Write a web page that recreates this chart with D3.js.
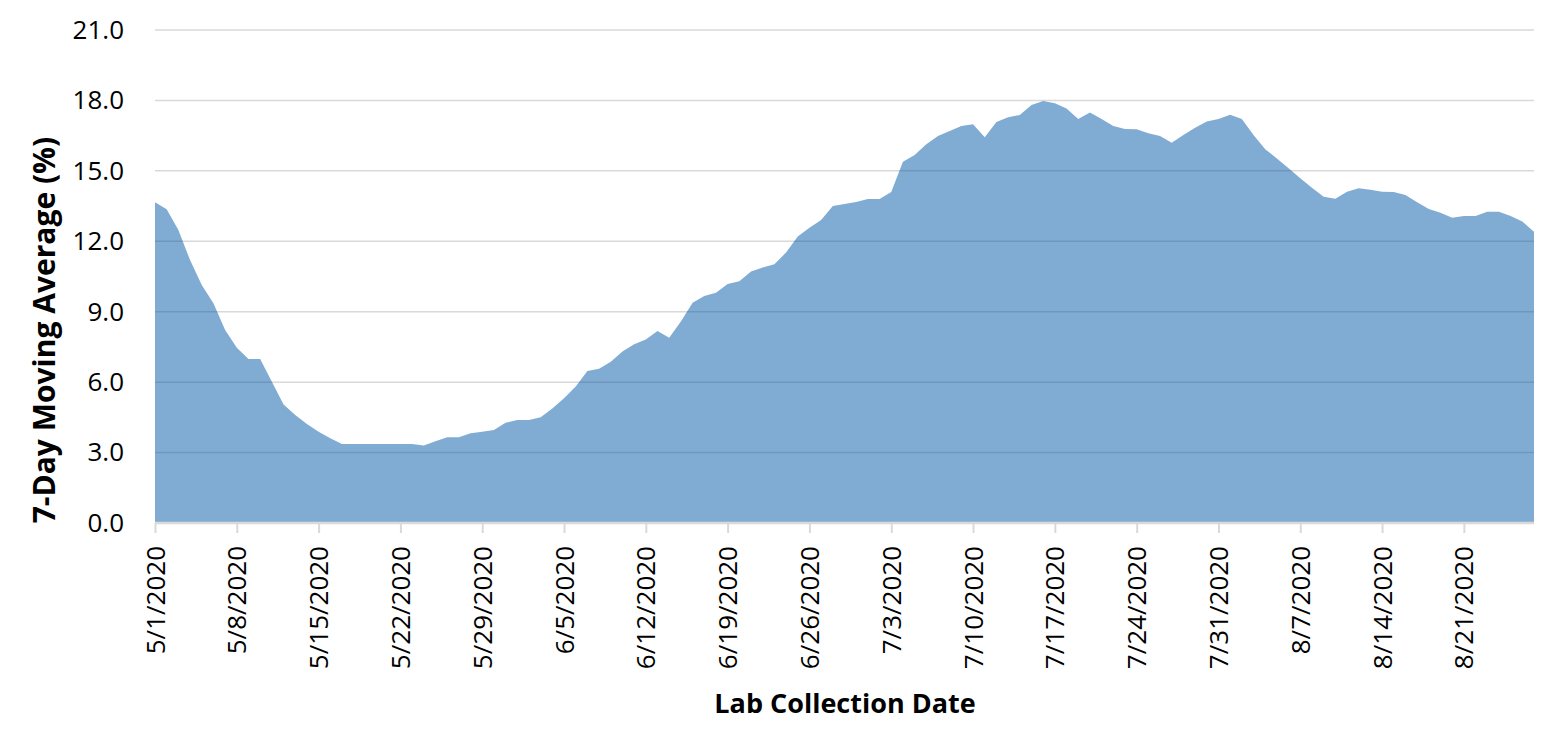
<!DOCTYPE html>
<html>
<head>
<meta charset="utf-8">
<script src="https://cdn.jsdelivr.net/npm/d3@7"></script>
<style>
  html, body { margin: 0; padding: 0; background: #fff; }
  svg { display: block; }
  text { font-family: "Open Sans", "Noto Sans", sans-serif; fill: #000; }
</style>
</head>
<body>
<svg id="chart" width="1557" height="749"></svg>
<script>
// ---- data ----
const startDate = "2020-05-01";
const values = [
  13.66, 13.36, 12.48, 11.2, 10.14, 9.36, 8.22, 7.47, 6.99, 6.99,
  6.02, 5.05, 4.6, 4.22, 3.89, 3.61, 3.37, 3.37, 3.37, 3.37,
  3.37, 3.37, 3.37, 3.3, 3.48, 3.65, 3.65, 3.82, 3.89, 3.96,
  4.27, 4.39, 4.39, 4.5, 4.88, 5.31, 5.81, 6.47, 6.57, 6.87,
  7.3, 7.61, 7.82, 8.18, 7.89, 8.58, 9.38, 9.67, 9.81, 10.18,
  10.3, 10.71, 10.88, 11.02, 11.52, 12.2, 12.58, 12.91, 13.5, 13.59,
  13.67, 13.8, 13.8, 14.1, 15.39, 15.68, 16.13, 16.49, 16.7, 16.91,
  16.98, 16.43, 17.08, 17.28, 17.38, 17.8, 17.98, 17.88, 17.66, 17.21,
  17.49, 17.21, 16.91, 16.78, 16.77, 16.6, 16.49, 16.2, 16.53, 16.84,
  17.1, 17.21, 17.39, 17.21, 16.53, 15.92, 15.53, 15.11, 14.68, 14.28,
  13.9, 13.81, 14.11, 14.26, 14.2, 14.11, 14.1, 13.97, 13.66, 13.37,
  13.22, 13.0, 13.08, 13.08, 13.26, 13.26, 13.08, 12.84, 12.41
];
const yTicks = [0, 3, 6, 9, 12, 15, 18, 21];
const xTickLabels = ["5/1/2020","5/8/2020","5/15/2020","5/22/2020","5/29/2020","6/5/2020","6/12/2020","6/19/2020","6/26/2020","7/3/2020","7/10/2020","7/17/2020","7/24/2020","7/31/2020","8/7/2020","8/14/2020","8/21/2020"];
const yTitle = "7-Day Moving Average (%)";
const xTitle = "Lab Collection Date";

// ---- layout ----
const mLeft = 155, mRight = 1534, mTop = 30, mBottom = 523;
const svg = d3.select("#chart");
const parse = d3.timeParse("%Y-%m-%d");
const d0 = parse(startDate);
const data = values.map((v, i) => ({ date: d3.timeDay.offset(d0, i), v }));

const x = d3.scaleTime()
  .domain([data[0].date, data[data.length - 1].date])
  .range([mLeft, mRight]);
const y = d3.scaleLinear().domain([0, 21]).range([mBottom, mTop]);

const tickDates = xTickLabels.map((_, i) => d3.timeDay.offset(d0, i * 7));

// gridlines
svg.append("g")
  .selectAll("line")
  .data(yTicks.filter(t => t > 0))
  .join("line")
  .attr("x1", mLeft).attr("x2", mRight)
  .attr("y1", d => y(d)).attr("y2", d => y(d))
  .attr("stroke", "#d9d9d9").attr("stroke-width", 1.5);

// area
const area = d3.area()
  .x(d => x(d.date))
  .y0(y(0))
  .y1(d => y(d.v));
svg.append("clipPath").attr("id", "areaClip")
  .append("path").datum(data).attr("d", area);
svg.append("path")
  .datum(data)
  .attr("d", area)
  .attr("fill", "#80acd4");

// gridlines over area (darker)
svg.append("g")
  .attr("clip-path", "url(#areaClip)")
  .selectAll("line")
  .data(yTicks.filter(t => t > 0))
  .join("line")
  .attr("x1", mLeft).attr("x2", mRight)
  .attr("y1", d => y(d)).attr("y2", d => y(d))
  .attr("stroke", "#000").attr("stroke-opacity", 0.12).attr("stroke-width", 1.5);

// y axis labels
const yAxis = d3.axisLeft(y).tickValues(yTicks).tickFormat(d3.format(".1f")).tickSize(0).tickPadding(31);
const gy = svg.append("g").attr("transform", `translate(${mLeft},0)`).call(yAxis);
gy.select(".domain").remove();
gy.selectAll("text").attr("font-size", 26).attr("font-family", "Open Sans, Noto Sans, sans-serif").attr("fill", "#000");

// x axis
const xAxis = d3.axisBottom(x).tickValues(tickDates)
  .tickFormat((d, i) => xTickLabels[i]).tickSize(10).tickPadding(6);
const gx = svg.append("g").attr("transform", `translate(0,${mBottom})`).call(xAxis);
gx.select(".domain").attr("stroke", "#d9d9d9").attr("stroke-width", 2.5)
  .attr("d", `M${mLeft},0H${mRight}`);
gx.selectAll(".tick line").attr("stroke", "#d9d9d9").attr("stroke-width", 2);
gx.selectAll("text")
  .attr("font-size", 26).attr("font-family", "Open Sans, Noto Sans, sans-serif").attr("fill", "#000")
  .attr("text-anchor", "end")
  .attr("transform", "rotate(-90)")
  .attr("x", -23).attr("y", 0).attr("dy", "0.35em");

// titles
svg.append("text")
  .attr("transform", `translate(55,330) rotate(-90)`)
  .attr("text-anchor", "middle")
  .attr("font-size", 30).attr("font-weight", "bold")
  .text(yTitle);
svg.append("text")
  .attr("x", 845).attr("y", 713)
  .attr("text-anchor", "middle")
  .attr("font-size", 27).attr("font-weight", "bold")
  .text(xTitle);
</script>
</body>
</html>
